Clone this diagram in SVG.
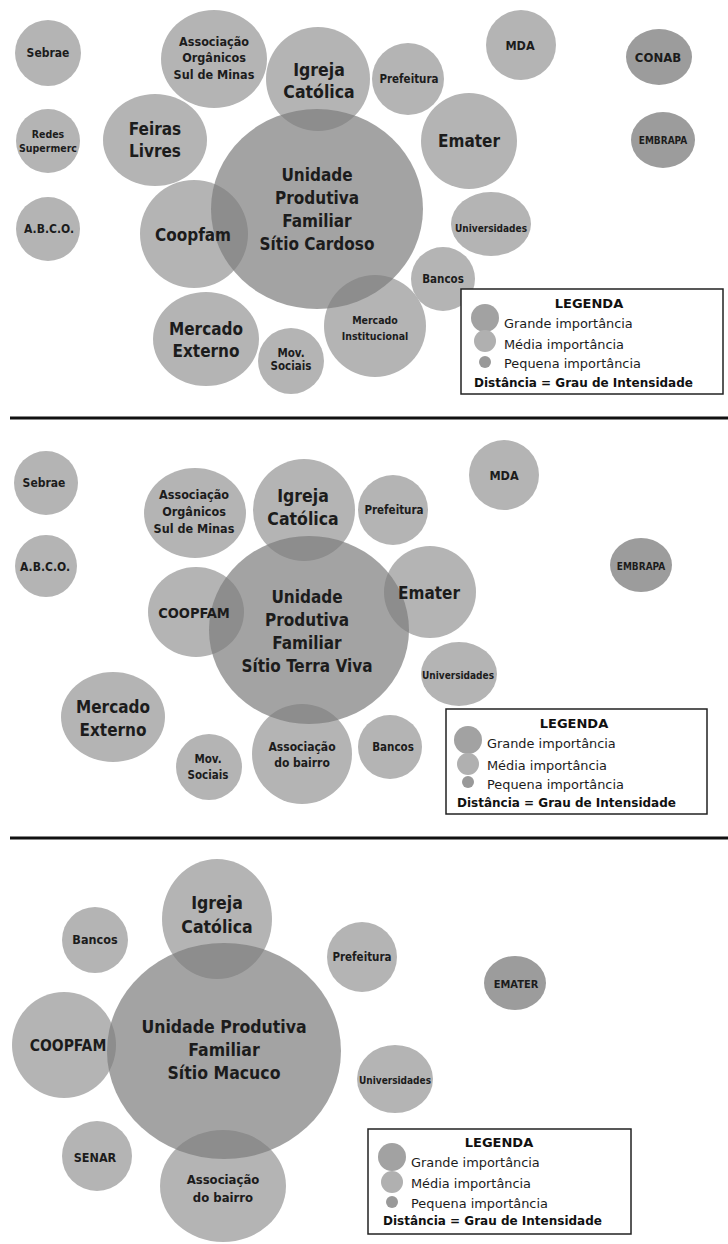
<svg xmlns="http://www.w3.org/2000/svg" width="728" height="1244" viewBox="0 0 728 1244">
<style>
.c{fill:#b4b4b4}
.d{fill:#9c9c9c}
.u{fill:#7c7c7c;fill-opacity:0.7}
.t{font-family:"DejaVu Sans Condensed","DejaVu Sans",sans-serif;font-stretch:condensed;font-weight:bold;fill:#1c1c1c;text-anchor:middle}
.lt{font-family:"DejaVu Sans",Verdana,sans-serif;fill:#1c1c1c;font-size:12.9px}
.lb{font-family:"DejaVu Sans",Verdana,sans-serif;fill:#111;font-weight:bold;font-size:13px}
.ld{font-family:"DejaVu Sans",Verdana,sans-serif;fill:#111;font-weight:bold;font-size:12px}
.box{fill:#fff;stroke:#222;stroke-width:1.5}
.sep{stroke:#111;stroke-width:3}
</style>
<rect width="728" height="1244" fill="#fff"/>
<line class="sep" x1="10" y1="418" x2="728" y2="418"/>
<line class="sep" x1="10" y1="838" x2="728" y2="838"/>
<g id="connectors"/>

<!-- Panel 1 -->
<g id="sebrae1"><circle class="c" cx="48" cy="53" r="33"/><text class="t" font-size="12" x="48" y="57">Sebrae</text></g>
<g id="redes1"><circle class="c" cx="48" cy="141" r="32"/><text class="t" font-size="10.5" x="48" y="138">Redes</text><text class="t" font-size="10.5" x="48" y="152">Supermerc</text></g>
<g id="abco1"><circle class="c" cx="48" cy="229" r="32"/><text class="t" font-size="12" x="49" y="233">A.B.C.O.</text></g>
<g id="assoc1"><ellipse class="c" cx="214" cy="59" rx="53" ry="49"/><text class="t" font-size="12.5" x="214" y="46">Associação</text><text class="t" font-size="12.5" x="214" y="62">Orgânicos</text><text class="t" font-size="12.5" x="214" y="79">Sul de Minas</text></g>
<g id="igreja1"><circle class="c" cx="318" cy="79" r="52"/></g>
<g id="feiras1"><ellipse class="c" cx="155" cy="140" rx="52" ry="46"/><text class="t" font-size="17" x="155" y="135">Feiras</text><text class="t" font-size="17" x="155" y="157">Livres</text></g>
<g id="coopfam1"><circle class="c" cx="194" cy="234" r="54"/></g>
<g id="merext1"><ellipse class="c" cx="206" cy="339" rx="53" ry="47"/><text class="t" font-size="17" x="206" y="335">Mercado</text><text class="t" font-size="17" x="206" y="357">Externo</text></g>
<g id="mov1"><circle class="c" cx="291" cy="361" r="33"/><text class="t" font-size="11.5" x="291" y="357">Mov.</text><text class="t" font-size="11.5" x="291" y="370">Sociais</text></g>
<g id="merinst1"><circle class="c" cx="375" cy="326" r="51"/></g>
<g id="bancos1"><circle class="c" cx="443" cy="279" r="32"/><text class="t" font-size="11.5" x="443" y="283">Bancos</text></g>
<g id="univ1"><ellipse class="c" cx="491" cy="224" rx="40" ry="32"/><text class="t" font-size="10" x="491" y="232">Universidades</text></g>
<g id="emater1"><circle class="c" cx="469" cy="141" r="48"/><text class="t" font-size="17" x="469" y="147">Emater</text></g>
<g id="pref1"><circle class="c" cx="408" cy="79" r="36"/><text class="t" font-size="11.5" x="409" y="83">Prefeitura</text></g>
<g id="mda1"><circle class="c" cx="521" cy="45" r="35"/><text class="t" font-size="12.5" x="520" y="50">MDA</text></g>
<g id="conab1"><ellipse class="d" cx="659" cy="57" rx="33" ry="28"/><text class="t" font-size="13" x="658" y="62">CONAB</text></g>
<g id="embrapa1"><ellipse class="d" cx="663" cy="140" rx="32" ry="28"/><text class="t" font-size="10" x="663" y="144">EMBRAPA</text></g>
<g id="unidade1"><ellipse class="u" cx="317" cy="209" rx="106" ry="100"/>
<text class="t" font-size="17" x="317" y="181">Unidade</text><text class="t" font-size="17" x="317" y="204">Produtiva</text><text class="t" font-size="17" x="317" y="227">Familiar</text><text class="t" font-size="17" x="317" y="250">Sítio Cardoso</text></g>
<g id="labels1">
<text class="t" font-size="17.5" x="319" y="76">Igreja</text><text class="t" font-size="17.5" x="319" y="98">Católica</text>
<text class="t" font-size="17" x="193" y="241">Coopfam</text>
<text class="t" font-size="10.5" x="375" y="324">Mercado</text><text class="t" font-size="10.5" x="375" y="340">Institucional</text>
</g>
<g id="legend1"><rect class="box" x="461" y="289" width="262" height="105"/>
<text class="lb" x="589" y="308" text-anchor="middle">LEGENDA</text>
<circle cx="485" cy="318" r="14" fill="#a2a2a2"/><circle cx="485" cy="341" r="11" fill="#b0b0b0"/><circle cx="485" cy="362" r="6" fill="#999"/>
<text class="lt" x="504" y="328">Grande importância</text><text class="lt" x="504" y="349">Média importância</text><text class="lt" x="504" y="368">Pequena importância</text>
<text class="ld" x="474" y="387">Distância = Grau de Intensidade</text></g>

<!-- Panel 2 -->
<g id="sebrae2"><circle class="c" cx="46" cy="483" r="32"/><text class="t" font-size="12" x="44" y="487">Sebrae</text></g>
<g id="abco2"><circle class="c" cx="46" cy="566" r="31"/><text class="t" font-size="12" x="45" y="571">A.B.C.O.</text></g>
<g id="assoc2"><ellipse class="c" cx="195" cy="513" rx="51" ry="45"/><text class="t" font-size="12.5" x="194" y="499">Associação</text><text class="t" font-size="12.5" x="194" y="516">Orgânicos</text><text class="t" font-size="12.5" x="194" y="533">Sul de Minas</text></g>
<g id="igreja2"><circle class="c" cx="304" cy="510" r="51"/></g>
<g id="coopfam2"><ellipse class="c" cx="196" cy="612" rx="48" ry="45"/></g>
<g id="pref2"><circle class="c" cx="393" cy="510" r="35"/><text class="t" font-size="11.5" x="394" y="514">Prefeitura</text></g>
<g id="mda2"><circle class="c" cx="504" cy="475" r="35"/><text class="t" font-size="12.5" x="504" y="480">MDA</text></g>
<g id="emater2"><circle class="c" cx="430" cy="592" r="46"/></g>
<g id="embrapa2"><ellipse class="d" cx="641" cy="565" rx="31" ry="27"/><text class="t" font-size="10" x="641" y="570">EMBRAPA</text></g>
<g id="univ2"><ellipse class="c" cx="459" cy="674" rx="38" ry="32"/><text class="t" font-size="10" x="458" y="679">Universidades</text></g>
<g id="bancos2"><circle class="c" cx="390" cy="747" r="32"/><text class="t" font-size="11.5" x="393" y="751">Bancos</text></g>
<g id="assocb2"><circle class="c" cx="302" cy="754" r="50"/></g>
<g id="mov2"><circle class="c" cx="209" cy="767" r="33"/><text class="t" font-size="11.5" x="208" y="763">Mov.</text><text class="t" font-size="11.5" x="208" y="779">Sociais</text></g>
<g id="merext2"><ellipse class="c" cx="113" cy="717" rx="52" ry="45"/><text class="t" font-size="17" x="113" y="713">Mercado</text><text class="t" font-size="17" x="113" y="736">Externo</text></g>
<g id="unidade2"><ellipse class="u" cx="309" cy="630" rx="100" ry="94"/>
<text class="t" font-size="17" x="307" y="603">Unidade</text><text class="t" font-size="17" x="307" y="626">Produtiva</text><text class="t" font-size="17" x="307" y="649">Familiar</text><text class="t" font-size="17" x="307" y="672">Sítio Terra Viva</text></g>
<g id="labels2">
<text class="t" font-size="17.5" x="303" y="502">Igreja</text><text class="t" font-size="17.5" x="303" y="525">Católica</text>
<text class="t" font-size="14.5" x="194" y="618">COOPFAM</text>
<text class="t" font-size="17" x="429" y="599">Emater</text>
<text class="t" font-size="12" x="302" y="751">Associação</text><text class="t" font-size="12" x="302" y="767">do bairro</text>
</g>
<g id="legend2"><rect class="box" x="446" y="709" width="261" height="105"/>
<text class="lb" x="574" y="728" text-anchor="middle">LEGENDA</text>
<circle cx="468" cy="740" r="14" fill="#a2a2a2"/><circle cx="468" cy="764" r="11" fill="#b0b0b0"/><circle cx="468" cy="782" r="6" fill="#999"/>
<text class="lt" x="487" y="748">Grande importância</text><text class="lt" x="487" y="770">Média importância</text><text class="lt" x="487" y="789">Pequena importância</text>
<text class="ld" x="457" y="807">Distância = Grau de Intensidade</text></g>

<!-- Panel 3 -->
<g id="igreja3"><ellipse class="c" cx="217" cy="919" rx="55" ry="60"/></g>
<g id="bancos3"><circle class="c" cx="95" cy="940" r="33"/><text class="t" font-size="12.5" x="95" y="944">Bancos</text></g>
<g id="pref3"><circle class="c" cx="362" cy="957" r="35"/><text class="t" font-size="11.5" x="362" y="961">Prefeitura</text></g>
<g id="emater3"><ellipse class="d" cx="515" cy="983" rx="31" ry="27"/><text class="t" font-size="11" x="516" y="988">EMATER</text></g>
<g id="coopfam3"><ellipse class="c" cx="64" cy="1045" rx="52" ry="53"/></g>
<g id="senar3"><circle class="c" cx="97" cy="1156" r="35"/><text class="t" font-size="12.5" x="95" y="1162">SENAR</text></g>
<g id="assocb3"><ellipse class="c" cx="223" cy="1186" rx="63" ry="56"/></g>
<g id="univ3"><ellipse class="c" cx="395" cy="1079" rx="38" ry="34"/><text class="t" font-size="10" x="395" y="1084">Universidades</text></g>
<g id="unidade3"><ellipse class="u" cx="224" cy="1051" rx="117" ry="108"/>
<text class="t" font-size="17.5" x="224" y="1033">Unidade Produtiva</text><text class="t" font-size="17.5" x="224" y="1056">Familiar</text><text class="t" font-size="17.5" x="224" y="1079">Sítio Macuco</text></g>
<g id="labels3">
<text class="t" font-size="17.5" x="217" y="909">Igreja</text><text class="t" font-size="17.5" x="217" y="933">Católica</text>
<text class="t" font-size="15.5" x="68" y="1051">COOPFAM</text>
<text class="t" font-size="13" x="223" y="1184">Associação</text><text class="t" font-size="13" x="223" y="1202">do bairro</text>
</g>
<g id="legend3"><rect class="box" x="368" y="1129" width="263" height="105"/>
<text class="lb" x="499" y="1147" text-anchor="middle">LEGENDA</text>
<circle cx="392" cy="1157" r="14" fill="#a2a2a2"/><circle cx="392" cy="1182" r="11" fill="#b0b0b0"/><circle cx="392" cy="1202" r="6" fill="#999"/>
<text class="lt" x="411" y="1167">Grande importância</text><text class="lt" x="411" y="1188">Média importância</text><text class="lt" x="411" y="1208">Pequena importância</text>
<text class="ld" x="383" y="1225">Distância = Grau de Intensidade</text></g>
</svg>
